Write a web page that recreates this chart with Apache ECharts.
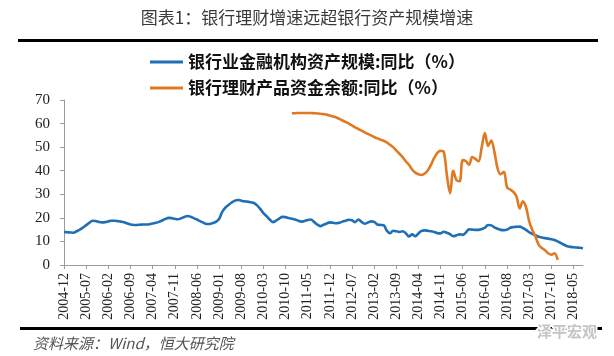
<!DOCTYPE html>
<html>
<head>
<meta charset="utf-8">
<script src="https://cdn.jsdelivr.net/npm/echarts@6/dist/echarts.min.js"></script>
<style>
html,body{margin:0;padding:0;background:#fff;}
#chart{width:614px;height:356px;}
</style>
</head>
<body>
<div id="chart"></div>
<script>
// ---- data ----
var startYear = 2004, startMonth = 12, monthCount = 165; // 2004-12 .. 2018-08
var categories = [];
(function(){
  var y = startYear, m = startMonth;
  for (var i = 0; i < monthCount; i++) {
    categories.push(y + '-' + (m < 10 ? '0' + m : '' + m));
    m++; if (m > 12) { m = 1; y++; }
  }
})();

var seriesNames = ['银行业金融机构资产规模:同比（%）', '银行理财产品资金余额:同比（%）'];

var bankAssets = [
14.0,13.9,13.8,13.7,14.3,15.0,15.9,16.9,17.9,18.8,
18.7,18.3,18.1,18.2,18.5,18.8,18.8,18.6,18.4,18.1,
17.6,17.2,17.0,17.0,17.1,17.2,17.2,17.3,17.6,17.9,
18.3,18.9,19.5,20.0,19.9,19.6,19.4,19.8,20.4,20.8,
20.5,19.9,19.3,18.6,18.0,17.4,17.4,17.8,18.3,19.5,
22.5,24.3,25.5,26.5,27.3,27.6,27.3,27.0,26.9,26.6,
26.3,25.3,23.8,22.0,20.7,19.3,18.2,18.8,19.7,20.4,
20.3,19.9,19.6,19.3,18.8,18.4,18.7,19.1,19.3,18.3,
17.2,16.5,17.1,17.6,18.1,17.9,17.7,17.9,18.4,18.8,
19.2,19.0,18.2,19.3,18.3,17.5,18.0,18.5,18.3,17.2,
17.0,16.9,14.6,13.5,14.5,14.3,14.0,14.3,13.5,12.1,
13.0,12.2,13.4,14.5,14.7,14.5,14.3,14.0,13.5,13.4,
14.1,13.7,13.1,12.2,12.6,13.0,12.8,13.8,15.1,15.0,
14.9,14.9,15.3,15.8,17.0,16.8,16.0,15.4,14.9,14.8,
15.0,15.8,16.1,16.2,16.3,15.7,14.9,13.9,13.2,12.6,
12.0,11.7,11.4,11.2,10.9,10.6,10.0,9.3,8.6,8.0,
7.7,7.5,7.4,7.3,7.1
];

// 理财产品资金余额同比: 2010-12 (index 72) .. 2017-12 (index 156)
var wmpStartIndex = 72;
var wmpValues = [
64.4,64.4,64.5,64.5,64.5,64.5,64.5,64.4,
64.3,64.2,64.0,63.8,63.4,63.0,62.6,62.0,61.3,60.7,
60.0,59.2,58.4,57.7,57.0,56.3,55.6,55.0,54.3,53.7,
53.2,52.7,52.0,51.0,50.0,48.6,47.2,45.8,44.0,42.5,
40.5,39.2,38.5,38.2,38.8,40.2,42.6,45.5,47.6,48.4,
48.0,38.0,30.5,40.0,36.0,35.5,44.5,44.0,42.5,45.8,
45.0,44.0,50.0,56.0,50.5,52.8,48.0,41.0,38.5,39.5,
33.0,32.0,31.0,29.0,24.0,27.0,24.5,18.5,14.8,12.0,
8.5,7.2,6.3,5.0,4.4,5.0,2.2
];

var yTicks = {min: 0, max: 70, interval: 10};

var wmp = [];
for (var i = 0; i < monthCount; i++) {
  var k = i - wmpStartIndex;
  wmp.push(k >= 0 && k < wmpValues.length ? wmpValues[k] : null);
}

// ---- chart ----
var chart = echarts.init(document.getElementById('chart'), null, {renderer: 'canvas'});
var serif = '"Liberation Serif", "Times New Roman", serif';
var cjk = '"Noto Sans CJK SC", "Noto Sans", sans-serif';
var axisGray = '#9a9a9a';
var blue = '#1f6fb6', orange = '#df7a22';

chart.setOption({
  animation: false,
  backgroundColor: '#fff',
  grid: {left: 64, right: 31, top: 100, bottom: 91, containLabel: false},
  legend: {
    orient: 'vertical',
    left: 145,
    top: 47,
    icon: 'rect',
    itemWidth: 33,
    itemHeight: 3,
    itemGap: 6,
    textStyle: {fontFamily: cjk, fontWeight: 'bold', fontSize: 17, color: '#111', lineHeight: 20},
    data: seriesNames
  },
  xAxis: {
    type: 'category',
    data: categories,
    boundaryGap: false,
    axisLine: {lineStyle: {color: axisGray, width: 1}},
    axisTick: {interval: 6, length: 4, lineStyle: {color: axisGray}},
    axisLabel: {interval: 6, rotate: 90, margin: 8, fontFamily: serif, fontSize: 14, color: '#222'},
    splitLine: {show: false}
  },
  yAxis: {
    type: 'value',
    min: yTicks.min, max: yTicks.max, interval: yTicks.interval,
    axisLine: {show: true, lineStyle: {color: axisGray, width: 1}},
    axisTick: {show: true, length: 4, lineStyle: {color: axisGray}},
    axisLabel: {margin: 14, fontFamily: serif, fontSize: 15, color: '#222'},
    splitLine: {show: false}
  },
  series: [
    {
      name: seriesNames[0], type: 'line', data: bankAssets,
      symbol: 'none', smooth: 0.35,
      lineStyle: {color: blue, width: 2.6},
      itemStyle: {color: blue}
    },
    {
      name: seriesNames[1], type: 'line', data: wmp,
      symbol: 'none', smooth: 0.35, connectNulls: false,
      lineStyle: {color: orange, width: 2.6},
      itemStyle: {color: orange}
    }
  ],
  graphic: [
    {type: 'text', x: 307, y: 18, style: {text: '图表1：银行理财增速远超银行资产规模增速', font: 'normal 17px ' + cjk, fill: '#3a3a3a', align: 'center', verticalAlign: 'middle'}},
    {type: 'rect', shape: {x: 18, y: 39, width: 580, height: 3}, style: {fill: '#000'}},
    {type: 'rect', shape: {x: 20, y: 327, width: 582, height: 3}, style: {fill: '#000'}},
    {type: 'text', x: 33, y: 343, style: {text: '资料来源：Wind，恒大研究院', font: 'italic 15px ' + cjk, fill: '#555', verticalAlign: 'middle'}},
    {type: 'text', x: 537, y: 331, style: {text: '泽平宏观', font: 'bold 15px ' + cjk, fill: '#c4c4c4', stroke: '#fff', lineWidth: 3, verticalAlign: 'middle'}}
  ]
});
</script>
</body>
</html>
